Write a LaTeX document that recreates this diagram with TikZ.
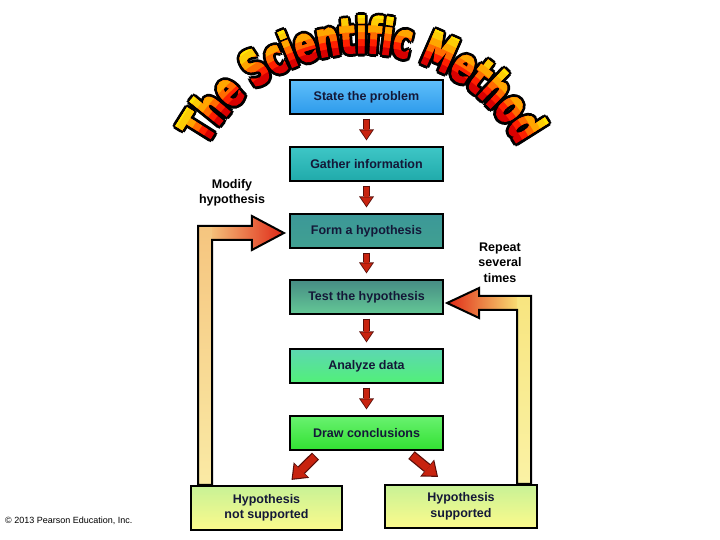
\documentclass[tikz,border=0pt]{standalone}
\usepackage{fontspec}
\setmainfont{Liberation Sans}
\newfontfamily\titlefont{DejaVu Sans}[FakeStretch=0.63,FakeBold=2.5]
\usetikzlibrary{decorations.text,arrows.meta,calc}
\definecolor{navy}{RGB}{20,24,56}
\definecolor{ared}{RGB}{200,35,15}
\definecolor{adark}{RGB}{90,15,10}
\newcommand\titlepass[2]{%
  \path[shift={#2},decorate,decoration={text along path,text color=#1,text align=center,
    text={|\titlefont\bfseries\fontsize{49}{49}\selectfont|The Scientific Method}}]
    (362,310) ++(160:177) arc[start angle=160,end angle=20,radius=177];}
\newcommand\titlelayer[2]{%
  \begin{scope}
    \clip (362,310) ++(600,0) arc[start angle=0,end angle=360,radius=600] -- cycle
          (362,310) ++(#1,0) arc[start angle=0,end angle=-360,radius=#1] -- cycle;
    \titlepass{#2}{(0,0)}
  \end{scope}}
\newcommand\LArrow[1]{%
  \path[#1] ($(Lbot)+(-7,0)$) -- ($(Lbot |- Ltip)+(-7,7)$) -- ($(Ltip)+(-32,7)$)
    -- ($(Ltip)+(-32,17)$) -- (Ltip) -- ($(Ltip)+(-32,-17)$) -- ($(Ltip)+(-32,-7)$)
    -- ($(Lbot |- Ltip)+(7,-7)$) -- ($(Lbot)+(7,0)$) -- cycle;}
\newcommand\RArrow[1]{%
  \path[#1] ($(Rbot)+(7,0)$) -- ($(Rbot |- Rtip)+(7,7)$) -- ($(Rtip)+(32,7)$)
    -- ($(Rtip)+(32,15)$) -- (Rtip) -- ($(Rtip)+(32,-15)$) -- ($(Rtip)+(32,-7)$)
    -- ($(Rbot |- Rtip)+(-7,-7)$) -- ($(Rbot)+(-7,0)$) -- cycle;}
\begin{document}
\begin{tikzpicture}[x=1pt,y=1pt,
  stepbox/.style={draw=black,line width=2.2pt,minimum width=153pt,minimum height=34pt,
    inner sep=0pt,text=navy,font=\bfseries\fontsize{12.5}{15}\selectfont},
  hypbox/.style={draw=black,line width=2.2pt,minimum width=152pt,minimum height=44pt,
    inner sep=0pt,text=navy,align=center,font=\bfseries\fontsize{12.5}{15.5}\selectfont,
    shading=axis,shading angle=-25,
    top color={rgb,255:red,200;green,242;blue,150},bottom color={rgb,255:red,252;green,250;blue,140}},
  lab/.style={align=center,font=\bfseries\fontsize{12.5}{15.5}\selectfont,text=black},
  sarrO/.style={line width=7.5pt,draw=adark,-{Triangle[width=15pt,length=11pt,line width'=0pt]}},
  sarrI/.style={line width=5pt,draw=ared,-{Triangle[width=11.5pt,length=8.5pt,line width'=0pt]}},
  darrO/.style={line width=10pt,draw=adark,-{Triangle[width=22pt,length=14pt,line width'=0pt]}},
  darrI/.style={line width=7.5pt,draw=ared,-{Triangle[width=18pt,length=11.5pt,line width'=0pt]}}]
\useasboundingbox (0,0) rectangle (720,540);

% title
\foreach \a in {0,45,...,315} {\titlepass{black}{(\a:3)}}
\titlelayer{0}{red!85!black}
\titlelayer{184}{red!75!orange}
\titlelayer{191}{orange!85!red}
\titlelayer{198}{orange!70!yellow}
\titlelayer{205}{yellow!65!orange}
\titlelayer{212}{yellow!90!orange}

% nodes
\node[stepbox,top color={rgb,255:red,95;green,190;blue,250},bottom color={rgb,255:red,45;green,155;blue,235}] (sp) at (366.5,443) {State the problem};
\node[stepbox,top color={rgb,255:red,62;green,198;blue,198},bottom color={rgb,255:red,32;green,170;blue,170}] (gi) at (366.5,376) {Gather information};
\node[stepbox,top color={rgb,255:red,60;green,152;blue,152},bottom color={rgb,255:red,64;green,160;blue,145}] (fh) at (366.5,309) {Form a hypothesis};
\node[stepbox,top color={rgb,255:red,70;green,140;blue,132},bottom color={rgb,255:red,100;green,200;blue,150}] (th) at (366.5,243) {Test the hypothesis};
\node[stepbox,top color={rgb,255:red,92;green,215;blue,178},bottom color={rgb,255:red,82;green,240;blue,120}] (ad) at (366.5,174) {Analyze data};
\node[stepbox,top color={rgb,255:red,105;green,242;blue,112},bottom color={rgb,255:red,50;green,225;blue,50}] (dc) at (366.5,107) {Draw conclusions};

\coordinate (Lbot) at (205,55);
\coordinate (Ltip) at ($(fh.west)+(-5,-2)$);
\coordinate (Rbot) at (524,56);
\coordinate (Rtip) at ($(th.east)+(3,-6)$);

% feedback arrows
\begin{scope}
  \LArrow{clip}
  \shade[bottom color={rgb,255:red,250;green,234;blue,165},top color={rgb,255:red,245;green,195;blue,125}]
    ($(Lbot)+(-10,0)$) rectangle ($(Lbot |- Ltip)+(7,20)$);
  \shade[left color={rgb,255:red,245;green,190;blue,120},right color={rgb,255:red,222;green,35;blue,20}]
    ($(Lbot |- Ltip)+(7,-20)$) rectangle ($(Ltip)+(2,20)$);
\end{scope}
\LArrow{draw=black,line width=2pt,line join=miter}
\begin{scope}
  \RArrow{clip}
  \shade[bottom color={rgb,255:red,250;green,242;blue,165},top color={rgb,255:red,248;green,228;blue,125}]
    ($(Rbot)+(10,0)$) rectangle ($(Rbot |- Rtip)+(-7,20)$);
  \shade[left color={rgb,255:red,222;green,35;blue,20},right color={rgb,255:red,248;green,220;blue,115}]
    ($(Rtip)+(-2,-20)$) rectangle ($(Rbot |- Rtip)+(-7,20)$);
\end{scope}
\RArrow{draw=black,line width=2pt,line join=miter}

\node[hypbox,minimum width=151pt] (ns) at (266.5,32) {Hypothesis\\not supported};
\node[hypbox,minimum height=43pt] (hs) at (461,33.5) {Hypothesis\\supported};

% small arrows
\foreach \p/\q in {sp/gi,gi/fh,fh/th,th/ad,ad/dc} {
  \draw[sarrO,shorten <=3.5pt,shorten >=5.5pt] (\p) -- (\q);
  \draw[sarrI,shorten <=4.6pt,shorten >=7pt] (\p) -- (\q);
}
\draw[darrO] ($(dc.south)+(-51,-5)$) -- ($(ns.north)+(25,5)$);
\draw[darrI,shorten <=1pt,shorten >=1.8pt] ($(dc.south)+(-51,-5)$) -- ($(ns.north)+(25,5)$);
\draw[darrO] ($(dc.south)+(45,-4)$) -- ($(hs.north)+(-23,7)$);
\draw[darrI,shorten <=1pt,shorten >=1.8pt] ($(dc.south)+(45,-4)$) -- ($(hs.north)+(-23,7)$);

% labels
\node[lab] (mod) at (232,347) {Modify\\hypothesis};
\node[lab] (rep) at (500,277.5) {Repeat\\several\\times};
\node[anchor=west,font=\fontsize{9}{10}\selectfont,inner sep=0pt] (cr) at (5,19) {© 2013 Pearson Education, Inc.};
\end{tikzpicture}
\end{document}
